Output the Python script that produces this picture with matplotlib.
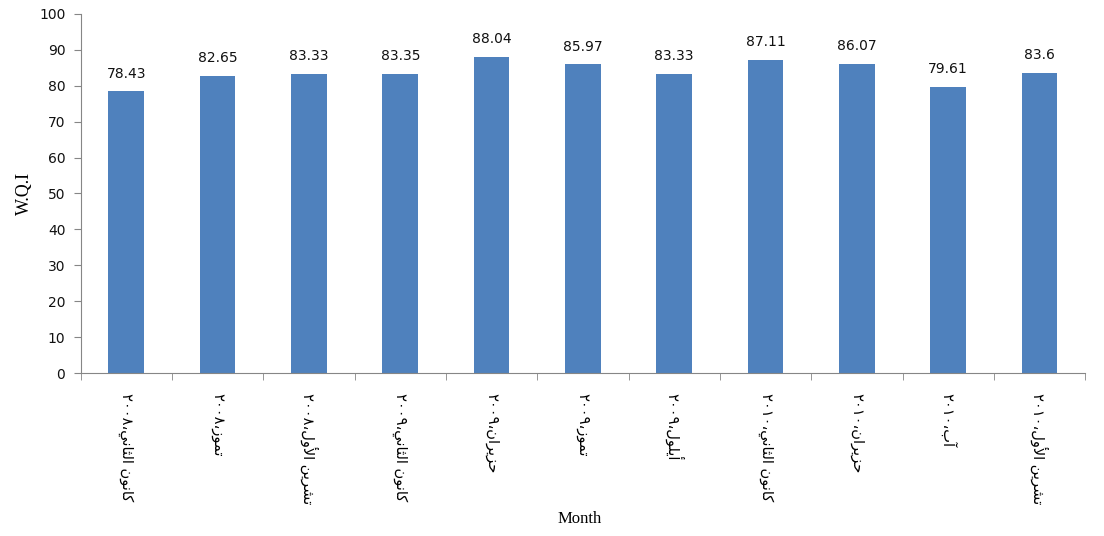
import matplotlib
matplotlib.use("Agg")
import matplotlib.pyplot as plt
from matplotlib.ticker import FixedLocator

# month names already shaped with Arabic presentation forms (logical order)
months = [
    "\uFEDB\uFE8E\uFEE7\uFEEE\uFEE5 \uFE8D\uFEDF\uFE9C\uFE8E\uFEE7\uFEF2",  # كانون الثاني
    "\uFE97\uFEE4\uFEEE\uFEAF",                                          # تموز
    "\uFE97\uFEB8\uFEAE\uFEF3\uFEE6 \uFE8D\uFEF7\uFEED\uFEDD",           # تشرين الأول
    "\uFEDB\uFE8E\uFEE7\uFEEE\uFEE5 \uFE8D\uFEDF\uFE9C\uFE8E\uFEE7\uFEF2",
    "\uFEA3\uFEB0\uFEF3\uFEAE\uFE8D\uFEE5",                              # حزيران
    "\uFE97\uFEE4\uFEEE\uFEAF",
    "\uFE83\uFEF3\uFEE0\uFEEE\uFEDD",                                    # أيلول
    "\uFEDB\uFE8E\uFEE7\uFEEE\uFEE5 \uFE8D\uFEDF\uFE9C\uFE8E\uFEE7\uFEF2",
    "\uFEA3\uFEB0\uFEF3\uFEAE\uFE8D\uFEE5",
    "\uFE81\uFE8F",                                                      # آب
    "\uFE97\uFEB8\uFEAE\uFEF3\uFEE6 \uFE8D\uFEF7\uFEED\uFEDD",
]
years = ["٢٠٠٨", "٢٠٠٨", "٢٠٠٨", "٢٠٠٩", "٢٠٠٩", "٢٠٠٩", "٢٠٠٩",
         "٢٠١٠", "٢٠١٠", "٢٠١٠", "٢٠١٠"]
wqi = [78.43, 82.65, 83.33, 83.35, 88.04, 85.97, 83.33, 87.11, 86.07, 79.61, 83.6]

# visual order (left to right) for the rotated labels
labels = [y + "،" + m[::-1] for m, y in zip(months, years)]

fig = plt.figure(figsize=(11.04, 5.36), dpi=100)
ax = fig.add_axes([0.073, 0.304, 0.91, 0.67])

x = list(range(len(wqi)))
bars = ax.bar(x, wqi, width=0.39, color="#4F81BD", zorder=2)
for b, v in zip(bars, wqi):
    ax.text(b.get_x() + b.get_width() / 2, v + 3.0, f"{v:g}",
            ha="center", va="bottom", fontsize=10, color="#111111")

ax.set_xlim(-0.5, len(wqi) - 0.5)
ax.set_ylim(0, 100)
ax.set_yticks(range(0, 101, 10))
ax.set_xticks(x)
ax.set_xticklabels(labels, rotation=-90, fontsize=10.5, family=["DejaVu Sans"],
                   va="top", ha="center", color="black")
ax.xaxis.set_minor_locator(FixedLocator([i - 0.5 for i in range(len(wqi) + 1)]))
ax.tick_params(axis="x", which="major", length=0, pad=14)
ax.tick_params(axis="x", which="minor", length=5, color="#868686")
ax.tick_params(axis="y", length=5, color="#868686", labelsize=10, pad=6,
               labelcolor="#111111")

for s in ["top", "right"]:
    ax.spines[s].set_visible(False)
for s in ["left", "bottom"]:
    ax.spines[s].set_color("#868686")

ax.set_ylabel("W.Q.I", family="Liberation Serif", fontsize=13, labelpad=4)
fig.text(0.525, 0.025, "Month", family="Liberation Serif", fontsize=12, ha="center")

plt.savefig("out.png", dpi=100)
